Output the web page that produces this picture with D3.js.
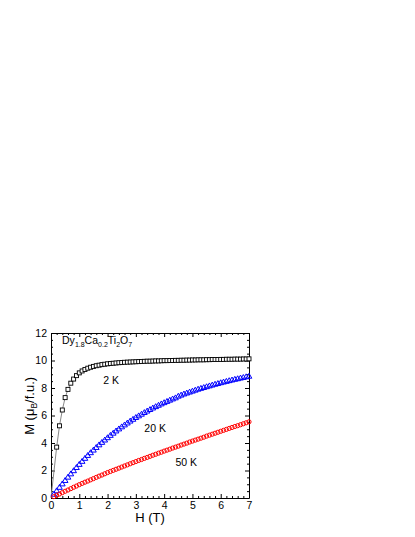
<!DOCTYPE html>
<html>
<head>
<meta charset="utf-8">
<script src="https://cdn.jsdelivr.net/npm/d3@7"></script>
<style>
  body { margin: 0; background: #fff; }
  svg text { font-family: "Liberation Sans", Arial, sans-serif; }
</style>
</head>
<body>
<svg id="chart" width="415" height="537"></svg>
<script>
// 2 K curve (squares)
const field2K = [0, 0.2, 0.3, 0.4, 0.5, 0.6, 0.7, 0.8, 0.9,
  1.0, 1.1, 1.2, 1.3, 1.4, 1.5, 1.6, 1.7, 1.8, 1.9, 2.0, 2.1, 2.2, 2.3, 2.4, 2.5, 2.6, 2.7, 2.8, 2.9,
  3.0, 3.1, 3.2, 3.3, 3.4, 3.5, 3.6, 3.7, 3.8, 3.9, 4.0, 4.1, 4.2, 4.3, 4.4, 4.5, 4.6, 4.7, 4.8, 4.9,
  5.0, 5.1, 5.2, 5.3, 5.4, 5.5, 5.6, 5.7, 5.8, 5.9, 6.0, 6.1, 6.2, 6.3, 6.4, 6.5, 6.6, 6.7, 6.8, 6.9, 7.0];
const moment2K = [0, 3.7, 5.25, 6.4, 7.3, 7.9, 8.35, 8.65, 8.9,
  9.10, 9.24, 9.35, 9.44, 9.51, 9.57, 9.62, 9.66, 9.70, 9.73, 9.76, 9.78, 9.80, 9.82, 9.84, 9.85, 9.87, 9.88, 9.89, 9.90,
  9.91, 9.92, 9.93, 9.94, 9.95, 9.95, 9.96, 9.97, 9.97, 9.98, 9.99, 9.99, 10.00, 10.00, 10.01, 10.01, 10.02, 10.02, 10.03, 10.03,
  10.04, 10.04, 10.05, 10.05, 10.05, 10.06, 10.06, 10.07, 10.07, 10.07, 10.08, 10.08, 10.09, 10.09, 10.09, 10.10, 10.10, 10.10, 10.11, 10.11, 10.12];

// 20 K and 50 K share the same field points
const fieldHT = [0.1, 0.2, 0.3, 0.4, 0.5, 0.6, 0.7, 0.8, 0.9,
  1.0, 1.1, 1.2, 1.3, 1.4, 1.5, 1.6, 1.7, 1.8, 1.9, 2.0, 2.1, 2.2, 2.3, 2.4, 2.5, 2.6, 2.7, 2.8, 2.9,
  3.0, 3.1, 3.2, 3.3, 3.4, 3.5, 3.6, 3.7, 3.8, 3.9, 4.0, 4.1, 4.2, 4.3, 4.4, 4.5, 4.6, 4.7, 4.8, 4.9,
  5.0, 5.1, 5.2, 5.3, 5.4, 5.5, 5.6, 5.7, 5.8, 5.9, 6.0, 6.1, 6.2, 6.3, 6.4, 6.5, 6.6, 6.7, 6.8, 6.9, 7.0];
const moment20K = [0.25, 0.50, 0.75, 1.00, 1.25, 1.49, 1.73, 1.96, 2.19,
  2.42, 2.64, 2.86, 3.07, 3.27, 3.46, 3.65, 3.84, 4.02, 4.19, 4.36, 4.53, 4.69, 4.85, 5.00, 5.15, 5.29, 5.43, 5.57, 5.70,
  5.83, 5.95, 6.07, 6.19, 6.30, 6.41, 6.52, 6.62, 6.72, 6.82, 6.91, 7.00, 7.09, 7.18, 7.26, 7.38, 7.46, 7.54, 7.61, 7.68,
  7.75, 7.82, 7.89, 7.95, 8.01, 8.07, 8.13, 8.19, 8.25, 8.30, 8.36, 8.41, 8.46, 8.51, 8.56, 8.61, 8.65, 8.70, 8.74, 8.79, 8.83];
const moment50K = [0.10, 0.19, 0.29, 0.39, 0.49, 0.58, 0.68, 0.78, 0.87,
  0.97, 1.06, 1.15, 1.23, 1.32, 1.41, 1.50, 1.59, 1.67, 1.76, 1.85, 1.93, 2.01, 2.09, 2.17, 2.25, 2.33, 2.41, 2.49, 2.57,
  2.65, 2.73, 2.80, 2.88, 2.95, 3.03, 3.11, 3.18, 3.26, 3.33, 3.41, 3.48, 3.55, 3.63, 3.70, 3.77, 3.85, 3.92, 3.99, 4.07,
  4.14, 4.21, 4.28, 4.35, 4.42, 4.50, 4.57, 4.64, 4.71, 4.78, 4.85, 4.92, 4.99, 5.06, 5.13, 5.20, 5.26, 5.33, 5.40, 5.47, 5.54];

const xTicks = [0, 1, 2, 3, 4, 5, 6, 7];
const yTicks = [0, 2, 4, 6, 8, 10, 12];
const xMinor = [0.2, 0.4, 0.6, 0.8, 1.2, 1.4, 1.6, 1.8, 2.2, 2.4, 2.6, 2.8, 3.2, 3.4, 3.6, 3.8,
  4.2, 4.4, 4.6, 4.8, 5.2, 5.4, 5.6, 5.8, 6.2, 6.4, 6.6, 6.8];
const yMinor = [0.5, 1, 1.5, 2.5, 3, 3.5, 4.5, 5, 5.5, 6.5, 7, 7.5, 8.5, 9, 9.5, 10.5, 11, 11.5];

const curveLabels = [
  { text: "2 K", h: 1.85, m: 8.3 },
  { text: "20 K", h: 3.3, m: 4.8 },
  { text: "50 K", h: 4.4, m: 2.3 }
];

const svg = d3.select("#chart");
const margin = { top: 333, left: 51, right: 166, bottom: 39 };
const width = +svg.attr("width") - margin.left - margin.right;
const height = +svg.attr("height") - margin.top - margin.bottom;

const x = d3.scaleLinear().domain([0, 7]).range([0, width]);
const y = d3.scaleLinear().domain([0, 12]).range([height, 0]);

const g = svg.append("g")
  .attr("transform", `translate(${margin.left},${margin.top})`);

function styleAxis(sel) {
  sel.selectAll("path").attr("stroke", "#000").attr("stroke-width", 1);
  sel.selectAll("line").attr("stroke", "#000").attr("stroke-width", 1);
  sel.selectAll("text").attr("font-size", "10.5px").attr("fill", "#000")
    .attr("font-family", "Liberation Sans, Arial, sans-serif");
}

// minor ticks on all four sides
g.append("g").attr("transform", `translate(0,${height})`)
  .call(d3.axisBottom(x).tickValues(xMinor).tickSize(-2).tickFormat("")).call(styleAxis)
  .select(".domain").remove();
g.append("g")
  .call(d3.axisTop(x).tickValues(xMinor).tickSize(-2).tickFormat("")).call(styleAxis)
  .select(".domain").remove();
g.append("g")
  .call(d3.axisLeft(y).tickValues(yMinor).tickSize(-2).tickFormat("")).call(styleAxis)
  .select(".domain").remove();
g.append("g").attr("transform", `translate(${width},0)`)
  .call(d3.axisRight(y).tickValues(yMinor).tickSize(-2).tickFormat("")).call(styleAxis)
  .select(".domain").remove();

// major ticks
g.append("g").attr("transform", `translate(0,${height})`)
  .call(d3.axisBottom(x).tickValues(xTicks).tickSize(-4).tickSizeOuter(0).tickPadding(4).tickFormat(d3.format("d")))
  .call(styleAxis);
g.append("g")
  .call(d3.axisTop(x).tickValues(xTicks).tickSize(-4).tickSizeOuter(0).tickFormat(""))
  .call(styleAxis);
g.append("g")
  .call(d3.axisLeft(y).tickValues(yTicks).tickSize(-4).tickSizeOuter(0).tickPadding(4).tickFormat(d3.format("d")))
  .call(styleAxis);
g.append("g").attr("transform", `translate(${width},0)`)
  .call(d3.axisRight(y).tickValues(yTicks).tickSize(-4).tickSizeOuter(0).tickFormat(""))
  .call(styleAxis);

// 2 K: grey guide line + open squares
const data2K = field2K.map((h, i) => ({ h, m: moment2K[i] }));
const data20K = fieldHT.map((h, i) => ({ h, m: moment20K[i] }));
const data50K = fieldHT.map((h, i) => ({ h, m: moment50K[i] }));

g.append("path")
  .datum(data2K)
  .attr("fill", "none")
  .attr("stroke", "#888")
  .attr("stroke-width", 1)
  .attr("d", d3.line().x(d => x(d.h)).y(d => y(d.m)));

g.selectAll(".sq")
  .data(data2K.filter(d => d.h > 0))
  .enter().append("rect")
  .attr("class", "sq")
  .attr("x", d => x(d.h) - 2)
  .attr("y", d => y(d.m) - 2)
  .attr("width", 4)
  .attr("height", 4)
  .attr("fill", "#fff")
  .attr("stroke", "#000")
  .attr("stroke-width", 0.9);

// 20 K: open triangles
g.selectAll(".tri")
  .data(data20K)
  .enter().append("path")
  .attr("class", "tri")
  .attr("transform", d => `translate(${x(d.h)},${y(d.m)})`)
  .attr("d", d3.symbol().type(d3.symbolTriangle).size(14))
  .attr("fill", "none")
  .attr("stroke", "#0000ff")
  .attr("stroke-width", 1);

// 50 K: open circles
g.selectAll(".circ")
  .data(data50K)
  .enter().append("circle")
  .attr("class", "circ")
  .attr("cx", d => x(d.h))
  .attr("cy", d => y(d.m))
  .attr("r", 2.1)
  .attr("fill", "none")
  .attr("stroke", "#ff0000")
  .attr("stroke-width", 1);

// curve labels
g.selectAll(".clabel")
  .data(curveLabels)
  .enter().append("text")
  .attr("x", d => x(d.h))
  .attr("y", d => y(d.m))
  .attr("font-size", "10.5px")
  .text(d => d.text);

// compound name
const comp = g.append("text")
  .attr("x", x(0.39))
  .attr("y", y(11.2))
  .attr("font-size", "10.5px");
[["Dy", false], ["1.8", true], ["Ca", false], ["0.2", true], ["Ti", false], ["2", true], ["O", false], ["7", true]]
  .forEach(([t, sub]) => {
    comp.append("tspan")
      .attr("font-size", sub ? "7px" : "10.5px")
      .attr("dy", sub ? 2.5 : (t === "Dy" ? 0 : -2.5))
      .text(t);
  });

// axis titles
g.append("text")
  .attr("x", width / 2)
  .attr("y", height + 24)
  .attr("text-anchor", "middle")
  .attr("font-size", "13px")
  .text("H (T)");

const yt = g.append("text")
  .attr("transform", `translate(-17,${y(6.7)}) rotate(-90)`)
  .attr("text-anchor", "middle")
  .attr("font-size", "13px");
yt.append("tspan").text("M (\u03bc");
yt.append("tspan").attr("font-size", "8.5px").attr("dy", 3).text("B");
yt.append("tspan").attr("dy", -3).text("/f.u.)");
</script>
</body>
</html>
